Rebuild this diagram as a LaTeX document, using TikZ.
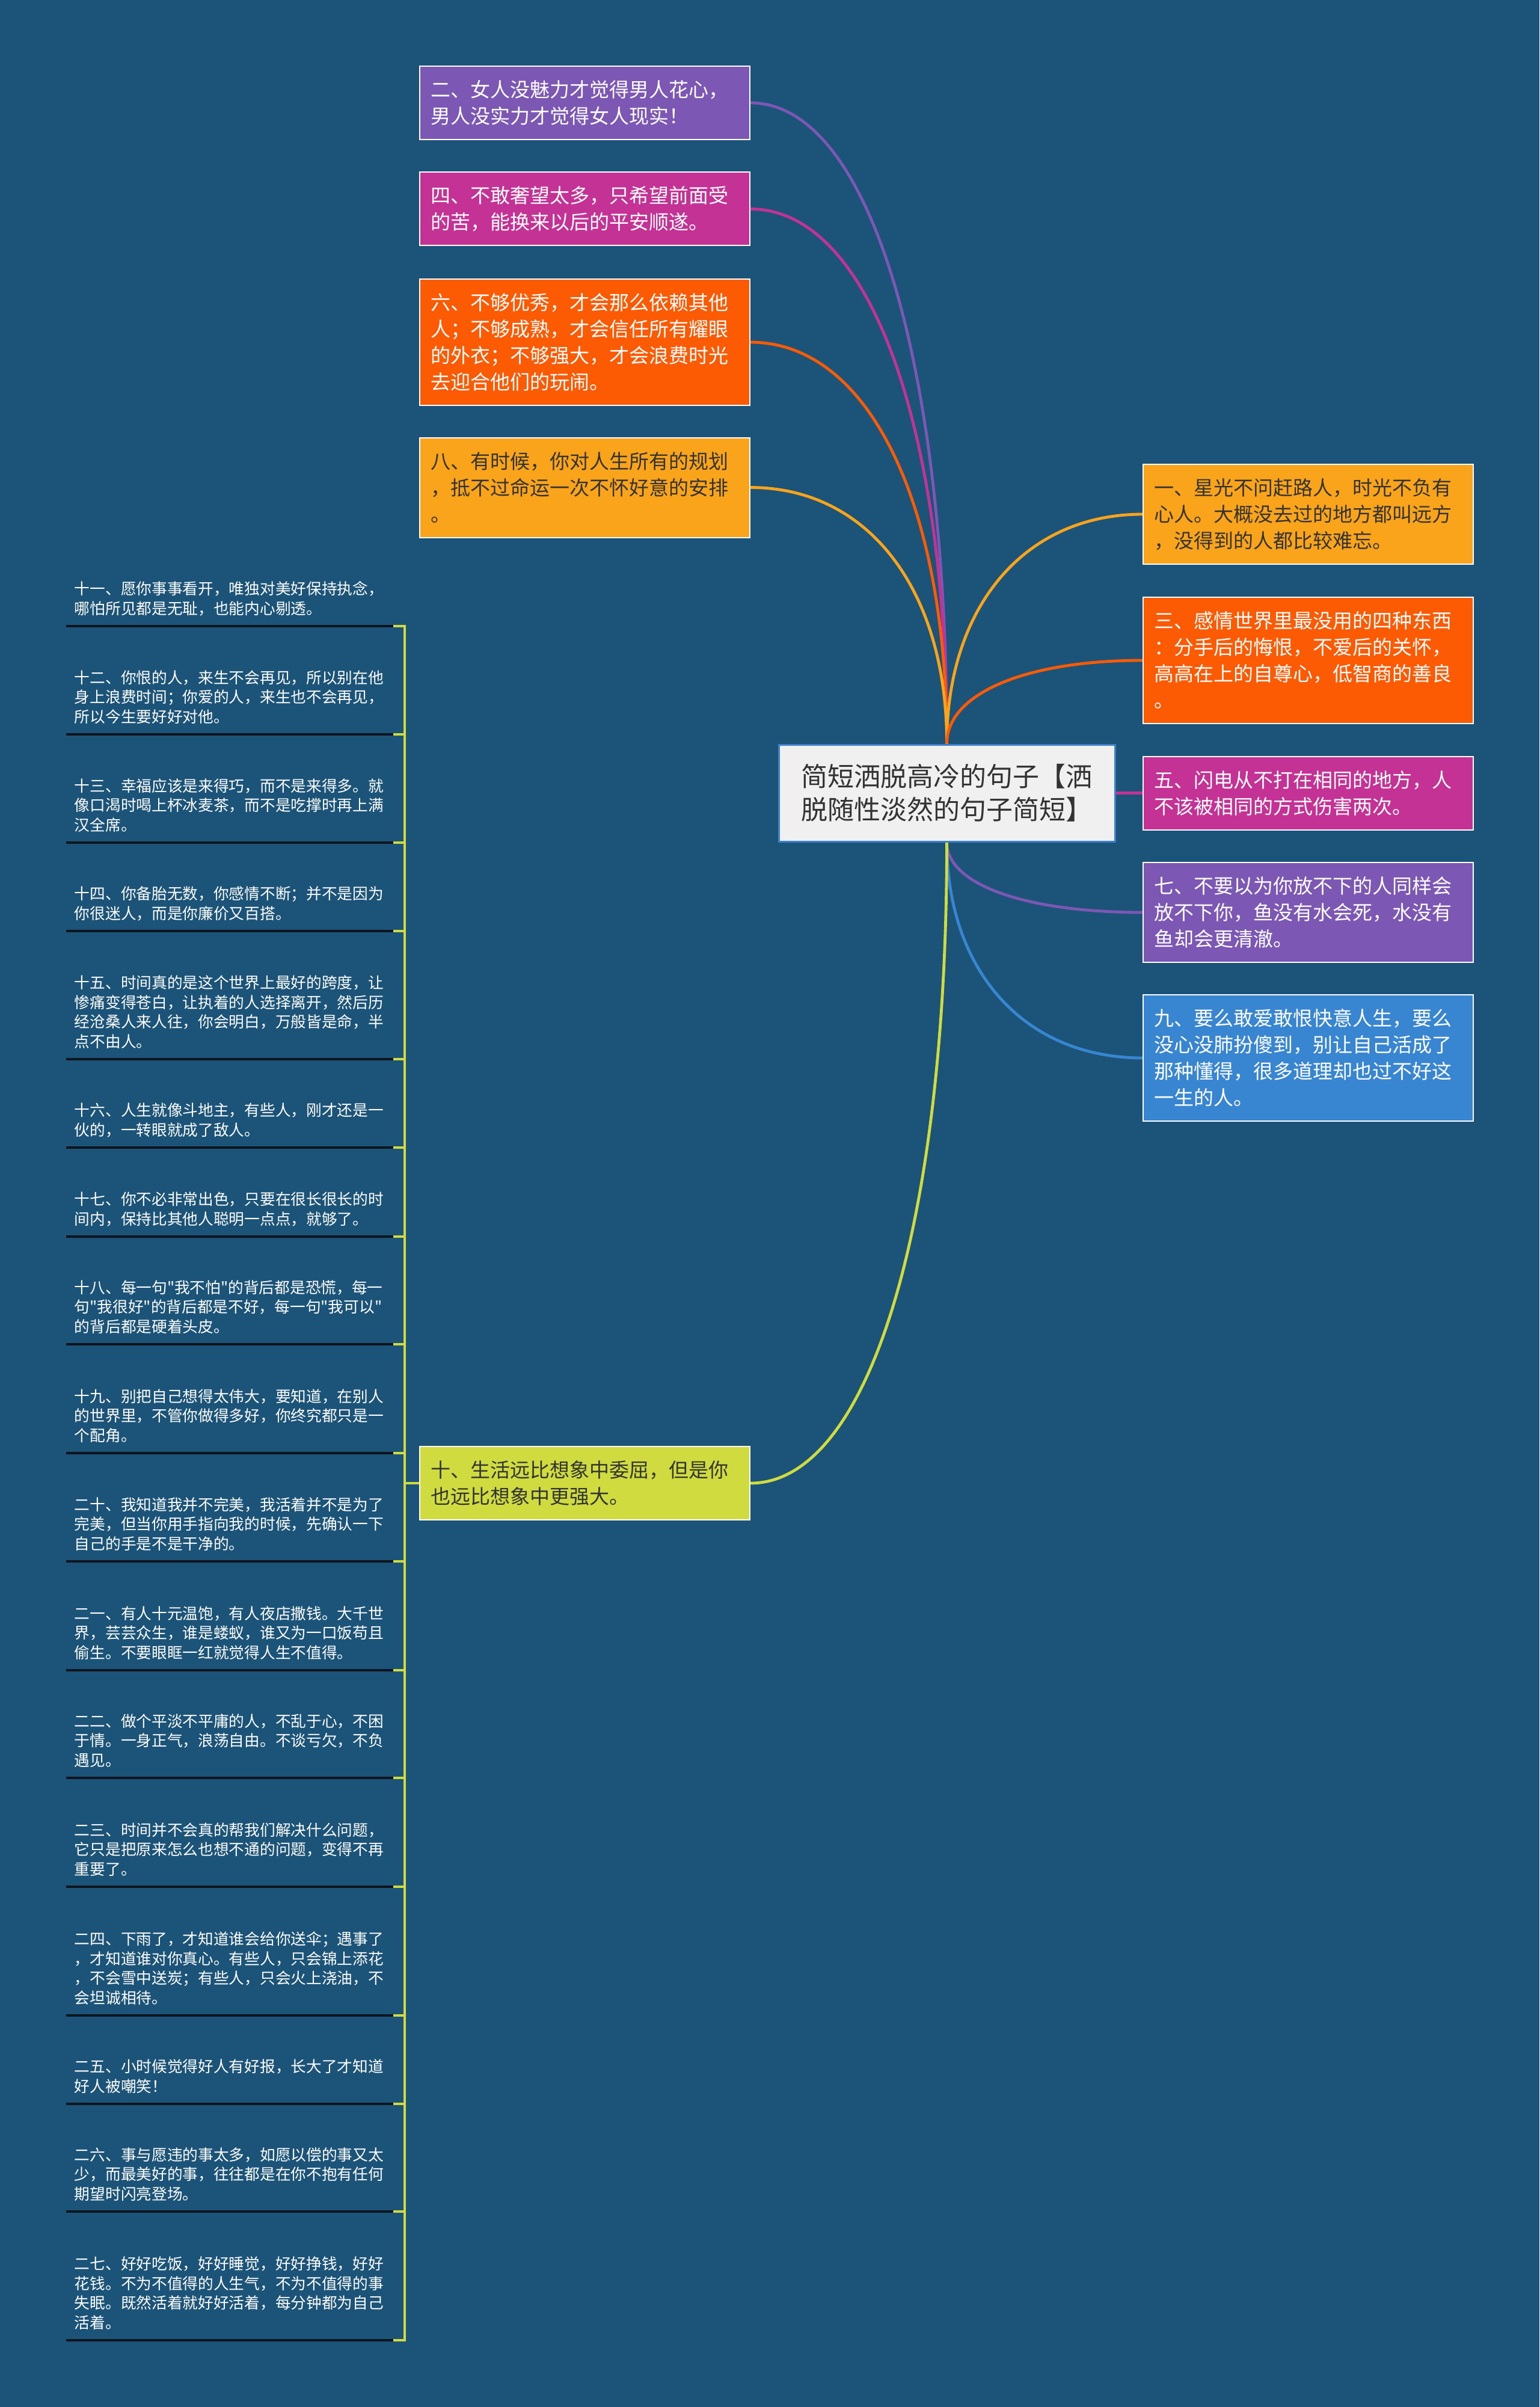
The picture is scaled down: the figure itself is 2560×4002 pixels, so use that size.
\documentclass[tikz,border=0pt]{standalone}
\usepackage{fontspec}
\setmainfont{Noto Sans CJK SC}[Ligatures=TeXOff]
\usetikzlibrary{calc}
\definecolor{bg}{HTML}{1B5478}
\definecolor{cpur}{HTML}{7C57B3}
\definecolor{cmag}{HTML}{C43296}
\definecolor{cora}{HTML}{FC5A03}
\definecolor{camb}{HTML}{FAA41B}
\definecolor{cblu}{HTML}{3886D2}
\definecolor{clim}{HTML}{CFDB3E}
\definecolor{ctrfill}{HTML}{F0F0F0}
\definecolor{ctrline}{HTML}{3D7FCC}
\definecolor{dark}{HTML}{333333}
\definecolor{uline}{HTML}{0E151C}
\pgfdeclarelayer{bgl}
\pgfsetlayers{bgl,main}
\newcommand\branch[3]{\draw[conn,#1] (#2) .. controls ($(#2)!0.6!(#2|-#3)$) and ($(#3)!0.6!(#2|-#3)$) .. (#3);}
\newcommand\ld{\rule[-0.2em]{0pt}{0pt}}
\begin{document}
\begin{tikzpicture}[x=0.5pt,y=-0.5pt,
  conn/.style={line width=2.4pt},
  box/.style={draw=white, line width=1pt, text width=256.5pt, inner xsep=9pt, inner ysep=2pt, align=left, text=white, font=\fontsize{16.5pt}{22pt}\selectfont},
  two/.style={minimum height=61pt},
  three/.style={minimum height=83pt},
  four/.style={minimum height=105pt},
  ctrbox/.style={draw=ctrline, line width=1.5pt, fill=ctrfill, text=dark, text width=242pt, inner xsep=18.75pt, minimum height=80.5pt, align=left, font=\fontsize{22pt}{27.5pt}\selectfont},
  item/.style={anchor=south west, text=white, align=left, text width=258pt, inner xsep=6.75pt, inner ysep=7pt, font=\fontsize{12.85pt}{16.3pt}\selectfont},
  uln/.style={draw=uline, line width=2pt},
  brk/.style={draw=clim, line width=2pt}]
\useasboundingbox (0,0) rectangle (2560,4002);
\begin{pgfonlayer}{bgl}
\fill[bg] (0,0) rectangle (2560,4002);
\end{pgfonlayer}

% central topic
\node[ctrbox] (ctr) at (1574.5,1318.5) {简短洒脱高冷的句子【洒\\脱随性淡然的句子简短】};

% left side boxes
\node[box,two,fill=cpur] (b2) at (972.5,171) {二、女人没魅力才觉得男人花心，\\男人没实力才觉得女人现实！};
\node[box,two,fill=cmag] (b4) at (972.5,347.5) {四、不敢奢望太多，只希望前面受\\的苦，能换来以后的平安顺遂。};
\node[box,four,fill=cora] (b6) at (972.5,569) {六、不够优秀，才会那么依赖其他\\人；不够成熟，才会信任所有耀眼\\的外衣；不够强大，才会浪费时光\\去迎合他们的玩闹。};
\node[box,three,fill=camb,text=dark] (b8) at (972.5,810.5) {八、有时候，你对人生所有的规划\\，抵不过命运一次不怀好意的安排\\。};
\node[box,two,fill=clim,text=dark] (b10) at (972.5,2466) {十、生活远比想象中委屈，但是你\\也远比想象中更强大。};

% right side boxes
\node[box,three,fill=camb,text=dark] (b1) at (2175.5,855) {一、星光不问赶路人，时光不负有\\心人。大概没去过的地方都叫远方\\，没得到的人都比较难忘。};
\node[box,four,fill=cora] (b3) at (2175.5,1098) {三、感情世界里最没用的四种东西\\：分手后的悔恨，不爱后的关怀，\\高高在上的自尊心，低智商的善良\\。};
\node[box,two,fill=cmag] (b5) at (2175.5,1318.5) {五、闪电从不打在相同的地方，人\\不该被相同的方式伤害两次。};
\node[box,three,fill=cpur] (b7) at (2175.5,1517) {七、不要以为你放不下的人同样会\\放不下你，鱼没有水会死，水没有\\鱼却会更清澈。};
\node[box,four,fill=cblu] (b9) at (2175.5,1759) {九、要么敢爱敢恨快意人生，要么\\没心没肺扮傻到，别让自己活成了\\那种懂得，很多道理却也过不好这\\一生的人。};

% left list items
\node[item] (i11) at (110,1041) {十一、愿你事事看开，唯独对美好保持执念，\\哪怕所见都是无耻，也能内心剔透。\ld};
\node[item] (i12) at (110,1221) {十二、你恨的人，来生不会再见，所以别在他\\身上浪费时间；你爱的人，来生也不会再见，\\所以今生要好好对他。\ld};
\node[item] (i13) at (110,1401) {十三、幸福应该是来得巧，而不是来得多。就\\像口渴时喝上杯冰麦茶，而不是吃撑时再上满\\汉全席。\ld};
\node[item] (i14) at (110,1548) {十四、你备胎无数，你感情不断；并不是因为\\你很迷人，而是你廉价又百搭。\ld};
\node[item] (i15) at (110,1761) {十五、时间真的是这个世界上最好的跨度，让\\惨痛变得苍白，让执着的人选择离开，然后历\\经沧桑人来人往，你会明白，万般皆是命，半\\点不由人。\ld};
\node[item] (i16) at (110,1908) {十六、人生就像斗地主，有些人，刚才还是一\\伙的，一转眼就成了敌人。\ld};
\node[item] (i17) at (110,2056) {十七、你不必非常出色，只要在很长很长的时\\间内，保持比其他人聪明一点点，就够了。\ld};
\node[item] (i18) at (110,2235) {十八、每一句"我不怕"的背后都是恐慌，每一\\句"我很好"的背后都是不好，每一句"我可以"\\的背后都是硬着头皮。\ld};
\node[item] (i19) at (110,2416) {十九、别把自己想得太伟大，要知道，在别人\\的世界里，不管你做得多好，你终究都只是一\\个配角。\ld};
\node[item] (i20) at (110,2596) {二十、我知道我并不完美，我活着并不是为了\\完美，但当你用手指向我的时候，先确认一下\\自己的手是不是干净的。\ld};
\node[item] (i21) at (110,2777) {二一、有人十元温饱，有人夜店撒钱。大千世\\界，芸芸众生，谁是蝼蚁，谁又为一口饭苟且\\偷生。不要眼眶一红就觉得人生不值得。\ld};
\node[item] (i22) at (110,2956) {二二、做个平淡不平庸的人，不乱于心，不困\\于情。一身正气，浪荡自由。不谈亏欠，不负\\遇见。\ld};
\node[item] (i23) at (110,3137) {二三、时间并不会真的帮我们解决什么问题，\\它只是把原来怎么也想不通的问题，变得不再\\重要了。\ld};
\node[item] (i24) at (110,3351) {二四、下雨了，才知道谁会给你送伞；遇事了\\，才知道谁对你真心。有些人，只会锦上添花\\，不会雪中送炭；有些人，只会火上浇油，不\\会坦诚相待。\ld};
\node[item] (i25) at (110,3498) {二五、小时候觉得好人有好报，长大了才知道\\好人被嘲笑！\ld};
\node[item] (i26) at (110,3677) {二六、事与愿违的事太多，如愿以偿的事又太\\少，而最美好的事，往往都是在你不抱有任何\\期望时闪亮登场。\ld};
\node[item] (i27) at (110,3891) {二七、好好吃饭，好好睡觉，好好挣钱，好好\\花钱。不为不值得的人生气，不为不值得的事\\失眠。既然活着就好好活着，每分钟都为自己\\活着。\ld};

\coordinate (spine) at (673,0);

\begin{pgfonlayer}{bgl}
% branches from the central topic
\branch{cpur}{ctr.north}{b2.east}
\branch{cmag}{ctr.north}{b4.east}
\branch{cora}{ctr.north}{b6.east}
\branch{camb}{ctr.north}{b8.east}
\branch{camb}{ctr.north}{b1.west}
\branch{cora}{ctr.north}{b3.west}
\draw[conn,cmag] (ctr.east) -- (b5.west);
\branch{cpur}{ctr.south}{b7.west}
\branch{cblu}{ctr.south}{b9.west}
\branch{clim}{ctr.south}{b10.east}
% bracket of the sub-list
\draw[brk] (b10.west) -- (b10.west -| spine);
\draw[brk, line join=miter] (i11.south east) -- (i11.south east -| spine) -- (i27.south east -| spine) -- (i27.south east);
\foreach \n in {12,13,14,15,16,17,18,19,20,21,22,23,24,25,26}
  \draw[brk] (i\n.south east) -- (i\n.south east -| spine);
\foreach \n in {11,12,13,14,15,16,17,18,19,20,21,22,23,24,25,26,27}
  \draw[uln] (i\n.south west) -- (i\n.south east);
\end{pgfonlayer}
\end{tikzpicture}
\end{document}
